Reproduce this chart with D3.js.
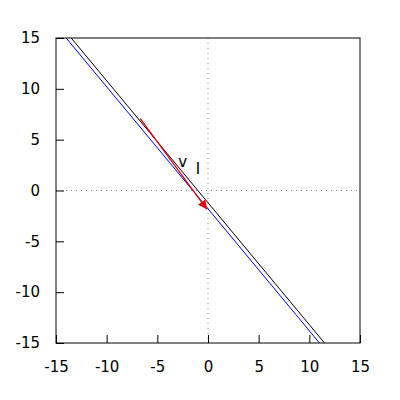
<!DOCTYPE html>
<html>
<head>
<meta charset="utf-8">
<script src="https://cdn.jsdelivr.net/npm/d3@7"></script>
<style>
  body { margin: 0; background: #fff; }
  text { font-family: "DejaVu Sans", sans-serif; }
</style>
</head>
<body>
<div id="container"></div>
<script>
// tick labels
const xTicks = [-15, -10, -5, 0, 5, 10, 15];
const yTicks = [-15, -10, -5, 0, 5, 10, 15];

// lines as [slope, intercept]
const lineNames = ['l', 'blue'];
const lineSlopes = [-1.2, -1.2];
const lineIntercepts = [-1.2, -1.8];
const lineColors = ['#000000', '#0000ff'];

// vector v: from -> to
const arrowFrom = [-6.7, 7.1];
const arrowTo = [-0.1, -1.85];

// labels
const labelText = ['v', 'I'];
const labelX = [-2.5, -1.0];
const labelY = [2.3, 1.6];

const margin = { top: 38, right: 40, bottom: 57, left: 56 };
const width = 400 - margin.left - margin.right;
const height = 400 - margin.top - margin.bottom;

const svg = d3.select('#container').append('svg')
  .attr('width', 400)
  .attr('height', 400);

const g = svg.append('g')
  .attr('transform', `translate(${margin.left}, ${margin.top})`);

const x = d3.scaleLinear().domain([-15, 15]).range([0, width]);
const y = d3.scaleLinear().domain([-15, 15]).range([height, 0]);

// zero axes, dotted
g.append('line')
  .attr('x1', x(0)).attr('x2', x(0))
  .attr('y1', 0).attr('y2', height)
  .attr('stroke', '#888').attr('stroke-dasharray', '1,4');
g.append('line')
  .attr('x1', 0).attr('x2', width)
  .attr('y1', y(0)).attr('y2', y(0))
  .attr('stroke', '#888').attr('stroke-dasharray', '1,4');

// axes (plain hyphen minus like gnuplot)
const fmt = (d) => String(d);
g.append('g')
  .attr('transform', `translate(0, ${height})`)
  .call(d3.axisBottom(x).tickValues(xTicks).tickFormat(fmt).tickSizeInner(-8).tickSizeOuter(0).tickPadding(18))
  .call((a) => a.select('.domain').remove());
g.append('g')
  .call(d3.axisLeft(y).tickValues(yTicks).tickFormat(fmt).tickSizeInner(-8).tickSizeOuter(0).tickPadding(16))
  .call((a) => a.select('.domain').remove());

g.selectAll('.tick text')
  .attr('font-size', '15px')
  .attr('font-family', 'DejaVu Sans, sans-serif')
  .attr('fill', '#000');
g.selectAll('.tick line').attr('stroke', '#000');

// clipped lines
svg.append('defs').append('clipPath').attr('id', 'clip')
  .append('rect').attr('width', width).attr('height', height);

const plot = g.append('g').attr('clip-path', 'url(#clip)');

lineNames.forEach((name, i) => {
  const pts = [-20, 20].map((xv) => [xv, lineSlopes[i] * xv + lineIntercepts[i]]);
  plot.append('path')
    .attr('d', d3.line().x((d) => x(d[0])).y((d) => y(d[1]))(pts))
    .attr('fill', 'none')
    .attr('stroke', lineColors[i])
    .attr('stroke-width', 1);
});

// arrow
svg.append('defs').append('marker')
  .attr('id', 'head')
  .attr('viewBox', '0 0 10 10')
  .attr('refX', 10).attr('refY', 5)
  .attr('markerWidth', 11).attr('markerHeight', 9)
  .attr('markerUnits', 'userSpaceOnUse')
  .attr('orient', 'auto')
  .append('path')
  .attr('d', 'M0,0 L10,5 L0,10 Z')
  .attr('fill', '#e00000');

plot.append('line')
  .attr('x1', x(arrowFrom[0])).attr('y1', y(arrowFrom[1]))
  .attr('x2', x(arrowTo[0])).attr('y2', y(arrowTo[1]))
  .attr('stroke', '#e00000')
  .attr('stroke-width', 1.2)
  .attr('marker-end', 'url(#head)');

// labels
labelText.forEach((t, i) => {
  g.append('text')
    .attr('x', x(labelX[i]))
    .attr('y', y(labelY[i]))
    .attr('text-anchor', 'middle')
    .attr('font-size', '15px')
    .text(t);
});

// border
g.append('rect')
  .attr('width', width).attr('height', height)
  .attr('fill', 'none').attr('stroke', '#000');
</script>
</body>
</html>
